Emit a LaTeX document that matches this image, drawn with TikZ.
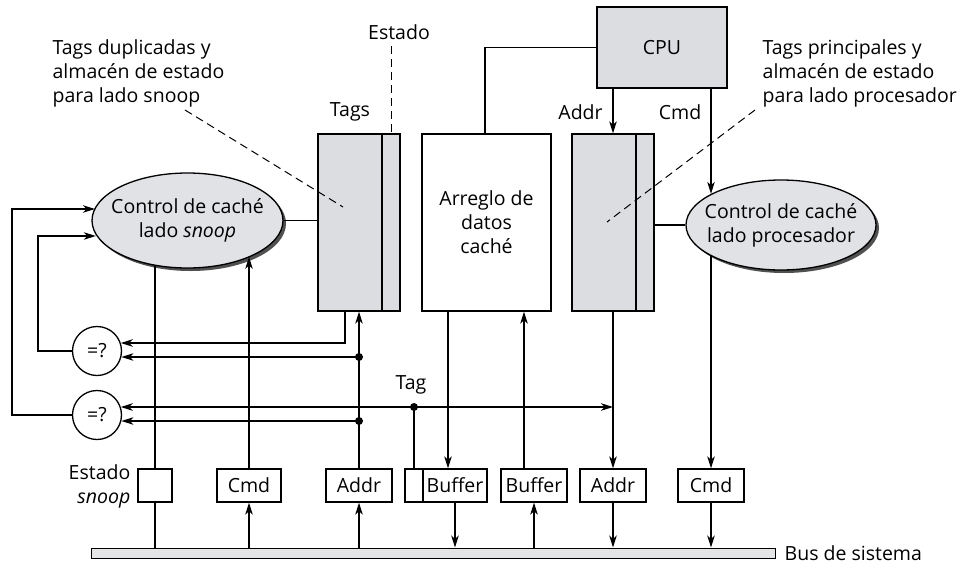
\documentclass[tikz,border=0pt]{standalone}
\usepackage{fontspec}
\setmainfont{Open Sans}
\usetikzlibrary{arrows.meta,shapes.geometric,shadows}
\definecolor{boxgray}{HTML}{DCDDE0}
\definecolor{ellgray}{HTML}{E1E2E5}
\definecolor{busgray}{HTML}{E4E5E7}
\definecolor{shadowgray}{HTML}{505050}
\tikzset{
  box/.style={draw, inner sep=0pt, minimum height=33pt},
  tagstore/.style={draw, fill=boxgray, inner sep=0pt, minimum width=82pt, minimum height=177pt},
  ctrl/.style={ellipse, draw, fill=ellgray, inner sep=0pt,
    drop shadow={shadow xshift=3pt, shadow yshift=-3pt, fill=shadowgray, opacity=1}},
  cmpc/.style={circle, draw, fill=white, inner sep=0pt, minimum size=49pt},
  lbl/.style={inner sep=0pt},
  dashline/.style={dash pattern=on 8pt off 5pt, line width=1pt},
  dot/.style={circle, fill, inner sep=0pt, minimum size=8pt}
}
\begin{document}
\begin{tikzpicture}[x=1pt,y=-1pt, line width=1.3pt,
  >={Stealth[length=12pt,width=7.5pt,inset=3.5pt]},
  font=\fontsize{19.5}{24}\selectfont]
\useasboundingbox (0,0) rectangle (958,565);

% reference levels
\coordinate (yA) at (0,343);
\coordinate (yB) at (0,357);
\coordinate (yC) at (0,407);
\coordinate (yD) at (0,421);
\coordinate (yE) at (0,209);
\coordinate (yF) at (0,236);
\coordinate (xL1) at (12,0);
\coordinate (xL2) at (38,0);

% main blocks
\node[draw, fill=boxgray, minimum width=130pt, minimum height=81pt, inner sep=0pt] (cpu) at (662,47.5) {CPU};
\node[tagstore] (stags) at (359,222.5) {};
\node[draw, fill=white, minimum width=129pt, minimum height=177pt, inner sep=0pt, align=center] (data) at (486.5,222.5) {Arreglo de\\datos\\caché};
\node[tagstore] (ptags) at (613,222.5) {};
\draw ([xshift=23pt]stags.north) -- ([xshift=23pt]stags.south);
\draw ([xshift=23pt]ptags.north) -- ([xshift=23pt]ptags.south);

% controllers
\node[ctrl, minimum width=191pt, minimum height=95pt] (sctrl) at (187.5,220.5) {};
\node[lbl, align=center] (stxt) at (sctrl.center) {Control de caché\\lado \textit{snoop}};
\node[ctrl, minimum width=190pt, minimum height=90pt] (pctrl) at (781,225) {};
\node[lbl, align=center] (ptxt) at (pctrl.center) {Control de caché\\lado procesador};

% comparators
\node[cmpc] (cmp1) at (97,351) {=?};
\node[cmpc] (cmp2) at (97,415) {=?};

% bottom boxes
\node[box, minimum width=34pt] (estbox) at (155,485.5) {};
\node[box, minimum width=64pt] (cmdL) at (249,485.5) {Cmd};
\node[box, minimum width=66pt] (addrL) at (359,485.5) {Addr};
\node[box, minimum width=18pt] (tagbox) at (414,485.5) {};
\node[box, minimum width=64pt] (buf1) at (455,485.5) {Buffer};
\node[box, minimum width=66pt] (buf2) at (534,485.5) {Buffer};
\node[box, minimum width=66pt] (addrR) at (613,485.5) {Addr};
\node[box, minimum width=66pt] (cmdR) at (711,485.5) {Cmd};

% bus
\node[draw, fill=busgray, minimum width=684pt, minimum height=10pt, inner sep=0pt, line width=1pt] (bus) at (433,553) {};
\node[lbl, anchor=west] (buslbl) at (784,553) {Bus de sistema};

% labels
\node[lbl] (estlbl) at (399,32) {Estado};
\node[lbl] (tagslbl) at (350,112) {Tags};
\node[lbl] (addrlbl) at (580.5,112) {Addr};
\node[lbl] (cmdlbl) at (680,112) {Cmd};
\node[lbl] (taglbl) at (411,385) {Tag};
\node[lbl, anchor=east, align=right] (estsnoop) at (131,486) {Estado\\\textit{snoop}};
\node[lbl, anchor=west, align=left] (snooplbl) at (52,73) {Tags duplicadas y\\almacén de estado\\para lado snoop};
\node[lbl, anchor=west, align=left] (proclbl) at (762,73) {Tags principales y\\almacén de estado\\para lado procesador};

% dashed pointers
\coordinate (sd1) at (185,110);
\coordinate (sd2) at (343,207);
\coordinate (pd1) at (755,110);
\coordinate (pd2) at (607,222);
\draw[dashline] (sd1) -- (sd2);
\draw[dashline] (pd1) -- (pd2);
\draw[dashline] ([xshift=-8pt]estlbl.south) ++(0,6) -- ([xshift=32pt]stags.north);

% CPU connections
\draw (cpu.west) -| ([xshift=-1.5pt]data.north);
\draw[->] (cpu.south -| ptags.north) -- (ptags.north);
\draw[->] (cpu.south -| cmdR.north) -- (cmdR.north |- pctrl.156.8);

% controller links
\draw (sctrl.east) -- (sctrl.east -| stags.west);
\draw (pctrl.west -| ptags.east) -- (pctrl.west);

% processor side down
\draw[->] (cmdR.north |- pctrl.203.5) -- (cmdR.north);
\draw[->] (cmdR.south) -- (cmdR.south |- bus.north);
\draw[->] (ptags.south) -- (addrR.north);
\draw[->] (addrR.south) -- (addrR.south |- bus.north);

% data buffers
\draw[->] ([xshift=-38.5pt]data.south) -- ([xshift=-38.5pt]data.south |- buf1.north);
\draw[->] (buf1.south) -- (buf1.south |- bus.north);
\draw[->] (buf2.south |- bus.north) -- (buf2.south);
\draw[->] ([xshift=-10pt]buf2.north) -- ([xshift=-10pt]buf2.north |- data.south);

% snoop side
\draw (estbox.north |- sctrl.234) -- (estbox.north);
\draw (estbox.south) -- (estbox.south |- bus.north);
\draw[->] (cmdL.south |- bus.north) -- (cmdL.south);
\draw[->] (cmdL.north) -- (cmdL.north |- sctrl.-30.6);
\draw[->] (addrL.south |- bus.north) -- (addrL.south);
\draw[->] (addrL.north) -- (addrL.north |- stags.south);

% comparator inputs
\draw[->] ([xshift=-14pt]stags.south) |- (cmp1.19 |- yA);
\coordinate (d1) at (addrL.north |- yB);
\coordinate (d2) at (addrL.north |- yD);
\coordinate (d3) at (tagbox.north |- yC);
\draw[->] (d1) -- (cmp1.-14 |- yB);
\draw[->] (d2) -- (cmp2.-14 |- yD);
\draw[<->] (cmp2.19 |- yC) -- (ptags.south |- yC);
\draw (tagbox.north) -- (d3);
\node[dot] (dot1) at (d1) {};
\node[dot] (dot2) at (d2) {};
\node[dot] (dot3) at (d3) {};

% comparator outputs loop back
\draw[->] (cmp2.west) -- (cmp2.west -| xL1) |- (sctrl.172.9 |- yE);
\draw[->] (cmp1.west) -- (cmp1.west -| xL2) |- (sctrl.189.7 |- yF);
\end{tikzpicture}
\end{document}
